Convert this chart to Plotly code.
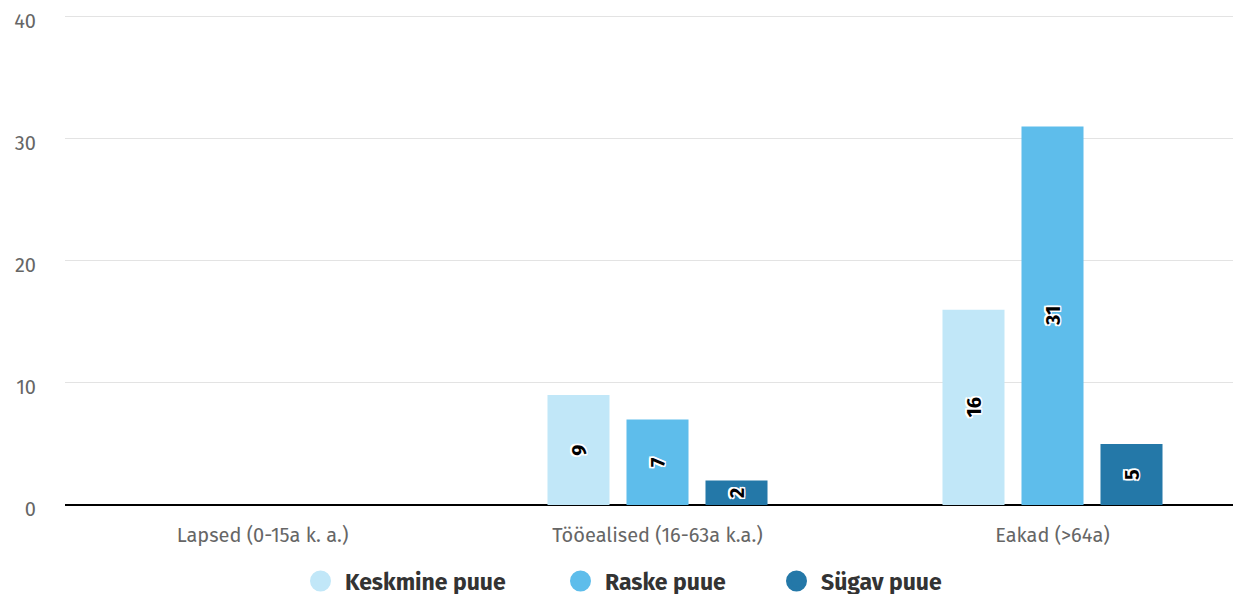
import plotly.graph_objects as go

categories = ["Lapsed (0-15a k. a.)", "Tööealised (16-63a k.a.)", "Eakad (>64a)"]
series_names = ["Keskmine puue", "Raske puue", "Sügav puue"]
keskmine = [0, 9, 16]
raske = [0, 7, 31]
sugav = [0, 2, 5]
colors = ["#c1e7f8", "#5ebdeb", "#2478a8"]
y_ticks = [0, 10, 20, 30, 40]

FONT = "Fira Sans, Lato, Noto Sans, sans-serif"
outline = ("1.5px 1.5px 0 #fff, -1.5px -1.5px 0 #fff, 1.5px -1.5px 0 #fff, -1.5px 1.5px 0 #fff, "
           "0 1.5px 0 #fff, 0 -1.5px 0 #fff, 1.5px 0 0 #fff, -1.5px 0 0 #fff")

# The page body has an 8px default margin, so the figure is laid out 8px up/left.
OFF = 8
W, H = 1241 - OFF, 594 - OFF
ML, MR, MB = 65 - OFF, 0, 89
ZERO_Y = H - MB
PX_PER_UNIT = 12.2
YMAX = 40.3
PH = PX_PER_UNIT * YMAX
MT = ZERO_Y - PH
PW = W - ML - MR

legend_ids = ["legend", "legend2", "legend3"]
legend_circle_px = [319 - OFF, 579 - OFF, 795 - OFF]
legend_center_y = 581 - OFF

fig = go.Figure()
for name, vals, col, lid in zip(series_names, [keskmine, raske, sugav], colors, legend_ids):
    fig.add_trace(go.Bar(
        x=categories, y=vals, name=name, marker=dict(color=col, line=dict(width=0)),
        text=[str(v) if v else "" for v in vals],
        textposition="inside", insidetextanchor="middle", textangle=-90,
        textfont=dict(family=FONT, size=20, color="#000000", weight="bold", shadow=outline),
        showlegend=False, hoverinfo="x+y+name",
    ))
    fig.add_trace(go.Scatter(
        x=[None], y=[None], mode="markers", name=name, legend=lid,
        marker=dict(color=col, size=16, symbol="circle", line=dict(color=col, width=6)),
        showlegend=True,
    ))

legend_common = dict(
    orientation="h", xanchor="left", yanchor="middle", y=(ZERO_Y - legend_center_y) / PH,
    font=dict(family=FONT, size=23, color="#333333", weight="bold"),
    itemsizing="trace", itemwidth=39, bgcolor="rgba(0,0,0,0)", borderwidth=0,
)
legends = {}
for lid, cx in zip(legend_ids, legend_circle_px):
    legends[lid] = dict(legend_common, x=(cx - 23 - ML) / PW)

fig.update_layout(
    width=W, height=H,
    margin=dict(l=ML, r=MR, t=MT, b=MB, autoexpand=False),
    paper_bgcolor="white", plot_bgcolor="white",
    barmode="group", bargap=0.4, bargroupgap=0.215,
    font=dict(family=FONT, color="#666666", size=20),
    xaxis=dict(
        range=[-0.5, -0.5 + PW / 395.0], showgrid=False, showline=False, zeroline=False,
        ticks="", tickfont=dict(size=20, color="#666666"), ticklabelstandoff=16,
    ),
    yaxis=dict(
        range=[0, YMAX], tickvals=y_ticks, showgrid=True, gridcolor="#e3e3e3", gridwidth=1,
        zeroline=True, zerolinecolor="#000000", zerolinewidth=2, showline=False,
        ticks="", tickfont=dict(size=20, color="#666666"), ticklabelstandoff=28,
        ticklabelshift=4, ticklabeloverflow="allow",
    ),
    showlegend=True,
    **legends,
)

fig.write_html("out.html")
